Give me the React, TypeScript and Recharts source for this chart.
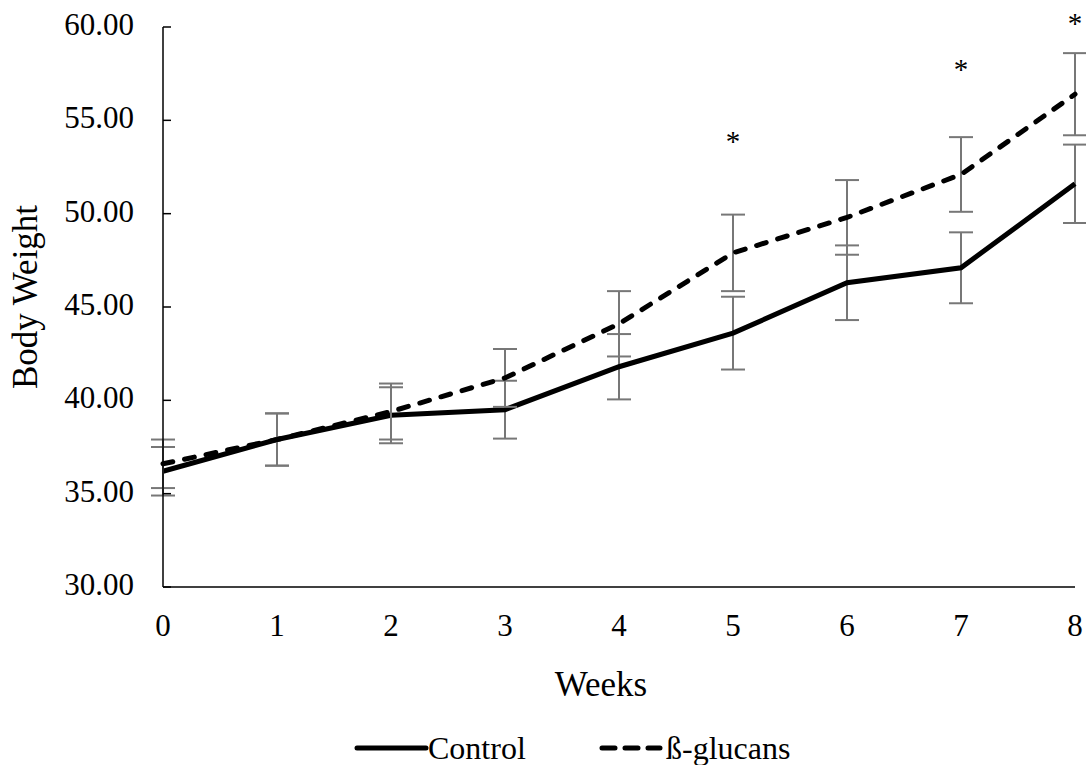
import { ComposedChart, Line, XAxis, YAxis, ErrorBar, Legend, ReferenceDot, Label } from "recharts";

const weeks = [0, 1, 2, 3, 4, 5, 6, 7, 8];
const control = [36.2, 37.9, 39.2, 39.5, 41.8, 43.6, 46.3, 47.1, 51.6];
const controlErr = [1.3, 1.4, 1.5, 1.55, 1.75, 1.95, 2.0, 1.9, 2.1];
const glucans = [36.6, 37.9, 39.4, 41.2, 44.1, 47.9, 49.8, 52.1, 56.4];
const glucansErr = [1.3, 1.4, 1.5, 1.55, 1.75, 2.05, 2.0, 2.0, 2.2];
const yTicks = [30, 35, 40, 45, 50, 55, 60];
// significance markers (*) placed above the β-glucan series
const sigWeeks = [5, 7, 8];
const sigHeights = [54.05, 57.9, 60.4];

const FONT = "Liberation Serif, DejaVu Serif, serif";
const ERR_COLOR = "#777777";

const data = weeks.map((w, i) => ({
  week: w,
  control: control[i],
  controlErr: controlErr[i],
  glucans: glucans[i],
  glucansErr: glucansErr[i],
}));

function LegendContent() {
  return (
    <div style={{ position: "relative", width: 1086, height: 40, fontFamily: FONT, fontSize: 32, color: "#000" }}>
      <svg width={1086} height={40} style={{ position: "absolute", left: 0, top: 0 }}>
        <line x1={357} x2={426} y1={20} y2={20} stroke="#000" strokeWidth={5} strokeLinecap="round" />
        <line x1={602} x2={660} y1={20} y2={20} stroke="#000" strokeWidth={5} strokeLinecap="round" strokeDasharray="13 10" />
      </svg>
      <span style={{ position: "absolute", left: 428, top: 0, lineHeight: "40px" }}>Control</span>
      <span style={{ position: "absolute", left: 666, top: 0, lineHeight: "40px" }}>ß-glucans</span>
    </div>
  );
}

export default function App() {
  return (
    <div style={{ position: "absolute", left: 0, top: 0, background: "#fff" }}>
      <ComposedChart
        width={1086}
        height={765}
        data={data}
        margin={{ top: 27, right: 11, left: 0, bottom: 0 }}
      >
        <XAxis
          dataKey="week"
          type="number"
          domain={[0, 8]}
          ticks={weeks}
          tickLine={false}
          tickSize={6}
          tickMargin={21}
          height={178}
          axisLine={{ stroke: "#000", strokeWidth: 1.5 }}
          tick={{ fill: "#000", fontSize: 31, fontFamily: FONT }}
        >
          <Label
            content={({ viewBox }: any) => (
              <text
                x={601}
                y={viewBox.y + 109}
                textAnchor="middle"
                fontFamily={FONT}
                fontSize={35}
                fill="#000"
              >
                Weeks
              </text>
            )}
          />
        </XAxis>
        <YAxis
          type="number"
          domain={[30, 60]}
          ticks={yTicks}
          width={163}
          tickSize={-8}
          tickMargin={37}
          tickFormatter={(v: number) => v.toFixed(2)}
          axisLine={{ stroke: "#000", strokeWidth: 1.5 }}
          tickLine={{ stroke: "#000", strokeWidth: 1.5 }}
          tick={{ fill: "#000", fontSize: 31, fontFamily: FONT, dy: -3 }}
        >
          <Label
            content={() => (
              <text
                x={37}
                y={297}
                transform="rotate(-90 37 297)"
                textAnchor="middle"
                fontFamily={FONT}
                fontSize={35}
                fill="#000"
              >
                Body Weight
              </text>
            )}
          />
        </YAxis>
        <Line
          dataKey="control"
          type="linear"
          stroke="#000"
          strokeWidth={5}
          dot={false}
          isAnimationActive={false}
        >
          <ErrorBar dataKey="controlErr" width={12} stroke={ERR_COLOR} strokeWidth={2} direction="y" />
        </Line>
        <Line
          dataKey="glucans"
          type="linear"
          stroke="#000"
          strokeWidth={5}
          strokeDasharray="10 12"
          strokeLinecap="round"
          dot={false}
          isAnimationActive={false}
        >
          <ErrorBar dataKey="glucansErr" width={12} stroke={ERR_COLOR} strokeWidth={2} direction="y" />
        </Line>
        {sigWeeks.map((w, i) => (
          <ReferenceDot
            key={`sig-${w}`}
            x={w}
            y={sigHeights[i]}
            r={0}
            ifOverflow="visible"
            shape={(p: any) => (
              <text
                x={p.cx}
                y={p.cy + 13}
                textAnchor="middle"
                fontFamily={FONT}
                fontSize={29}
                fill="#000"
              >
                *
              </text>
            )}
          />
        ))}
        <Legend
          verticalAlign="middle"
          align="center"
          layout="horizontal"
          wrapperStyle={{ top: 728, left: 0, width: 1086 }}
          content={() => <LegendContent />}
        />
      </ComposedChart>
    </div>
  );
}
